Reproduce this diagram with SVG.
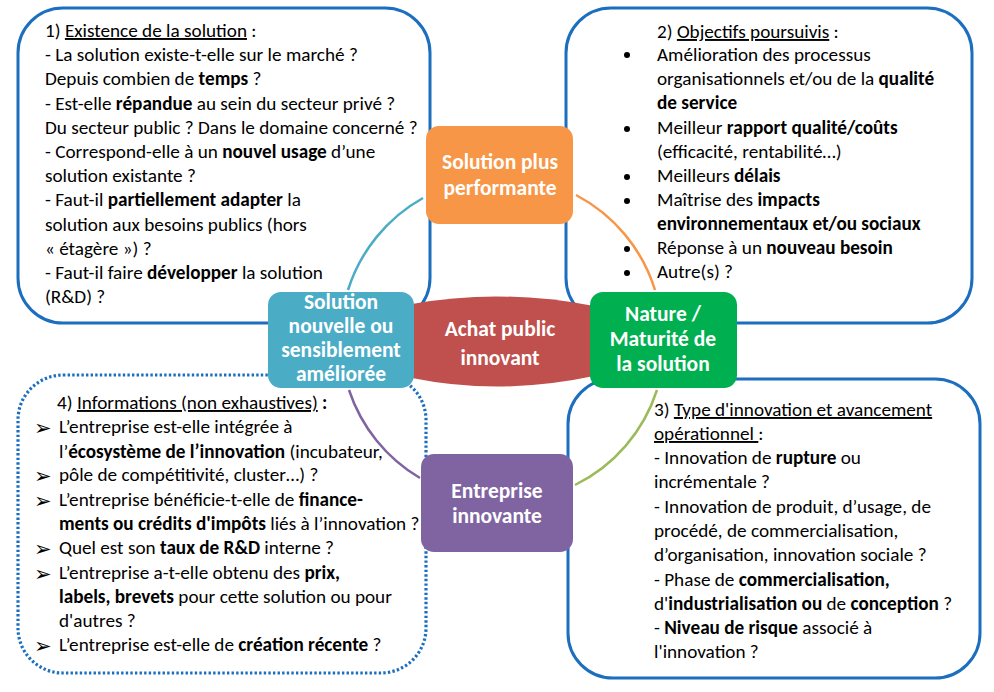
<svg xmlns="http://www.w3.org/2000/svg" width="994" height="692" viewBox="0 0 994 692">
<style>
.box{fill:none;stroke:#1c6ebf;stroke-width:3}
.dot{fill:none;stroke:#1c6ebf;stroke-width:3.2;stroke-dasharray:2.4 2.2}
.t{font-family:Carlito,Lato,"Liberation Sans",sans-serif;font-size:19.2px;fill:#000}
.b{font-weight:bold}
.u{text-decoration:underline}
.n{font-family:Carlito,Lato,"Liberation Sans",sans-serif;font-size:21.5px;font-weight:bold;fill:#fff;text-anchor:middle}
.arc{fill:none;stroke-width:2.5}
.bul{font-family:"DejaVu Sans",sans-serif;font-size:21px;fill:#000}
</style>
<rect width="994" height="692" fill="#fff"/>
<g id="box1">
<rect class="box" x="18" y="8" width="412" height="315" rx="45"/>
<text class="t" x="45" y="37">1) <tspan class="u">Existence de la solution</tspan> :</text>
<text class="t" x="45" y="61">- La solution existe-t-elle sur le marché ?</text>
<text class="t" x="45" y="85">Depuis combien de <tspan class="b">temps</tspan> ?</text>
<text class="t" x="45" y="110">- Est-elle <tspan class="b">répandue</tspan> au sein du secteur privé ?</text>
<text class="t" x="45" y="134">Du secteur public ? Dans le domaine concerné ?</text>
<text class="t" x="45" y="158">- Correspond-elle à un <tspan class="b">nouvel usage</tspan> d’une</text>
<text class="t" x="45" y="182">solution existante ?</text>
<text class="t" x="45" y="206">- Faut-il <tspan class="b">partiellement adapter</tspan> la</text>
<text class="t" x="45" y="231">solution aux besoins publics (hors</text>
<text class="t" x="45" y="255">« étagère ») ?</text>
<text class="t" x="45" y="279">- Faut-il faire <tspan class="b">développer</tspan> la solution</text>
<text class="t" x="45" y="303">(R&amp;D) ?</text>
</g>
<g id="box2">
<rect class="box" x="566" y="8" width="406" height="315" rx="45"/>
<text class="t" x="657" y="38">2) <tspan class="u">Objectifs poursuivis</tspan> :</text>
<g fill="#000"><circle cx="627" cy="55" r="3"/><circle cx="627" cy="129" r="3"/><circle cx="627" cy="177" r="3"/><circle cx="627" cy="201" r="3"/><circle cx="627" cy="249" r="3"/><circle cx="627" cy="273" r="3"/></g>
<text class="t" x="657" y="61">Amélioration des processus</text>
<text class="t" x="657" y="85">organisationnels et/ou de la <tspan class="b">qualité</tspan></text>
<text class="t b" x="657" y="109">de service</text>
<text class="t" x="657" y="134">Meilleur <tspan class="b">rapport qualité/coûts</tspan></text>
<text class="t" x="657" y="158">(efficacité, rentabilité…)</text>
<text class="t" x="657" y="182">Meilleurs <tspan class="b">délais</tspan></text>
<text class="t" x="657" y="206">Maîtrise des <tspan class="b">impacts</tspan></text>
<text class="t b" x="657" y="230">environnementaux et/ou sociaux</text>
<text class="t" x="657" y="254">Réponse à un <tspan class="b">nouveau besoin</tspan></text>
<text class="t" x="657" y="278">Autre(s) ?</text>
</g>
<g id="box3">
<rect class="box" x="568" y="379" width="412" height="299" rx="45"/>
<text class="t" x="654" y="416">3) <tspan class="u">Type d'innovation et avancement</tspan></text>
<text class="t" x="654" y="440"><tspan class="u">opérationnel </tspan>:</text>
<text class="t" x="654" y="464">- Innovation de <tspan class="b">rupture</tspan> ou</text>
<text class="t" x="654" y="488">incrémentale ?</text>
<text class="t" x="654" y="513">- Innovation de produit, d’usage, de</text>
<text class="t" x="654" y="537">procédé, de commercialisation,</text>
<text class="t" x="654" y="561">d’organisation, innovation sociale ?</text>
<text class="t" x="654" y="586">- Phase de <tspan class="b">commercialisation,</tspan></text>
<text class="t" x="654" y="610">d'<tspan class="b">industrialisation ou</tspan> de <tspan class="b">conception</tspan> ?</text>
<text class="t" x="654" y="634">- <tspan class="b">Niveau de risque</tspan> associé à</text>
<text class="t" x="654" y="658">l'innovation ?</text>
</g>
<g id="box4">
<rect class="dot" x="18" y="375" width="408" height="298" rx="45"/>
<text class="t" x="57" y="409">4) <tspan class="u">Informations (non exhaustives)</tspan><tspan class="b"> :</tspan></text>
<text class="bul" x="34" y="435">➢</text>
<text class="bul" x="34" y="483">➢</text>
<text class="bul" x="34" y="508">➢</text>
<text class="bul" x="34" y="556">➢</text>
<text class="bul" x="34" y="581">➢</text>
<text class="bul" x="34" y="653">➢</text>
<text class="t" x="59" y="433">L’entreprise est-elle intégrée à</text>
<text class="t" x="59" y="458">l’<tspan class="b">écosystème de l’innovation</tspan> (incubateur,</text>
<text class="t" x="59" y="481">pôle de compétitivité, cluster…) ?</text>
<text class="t" x="59" y="506">L’entreprise bénéficie-t-elle de <tspan class="b">finance-</tspan></text>
<text class="t" x="59" y="530"><tspan class="b">ments ou crédits d'impôts</tspan> liés à l’innovation ?</text>
<text class="t" x="59" y="554">Quel est son <tspan class="b">taux de R&amp;D</tspan> interne ?</text>
<text class="t" x="59" y="579">L’entreprise a-t-elle obtenu des <tspan class="b">prix,</tspan></text>
<text class="t" x="59" y="603"><tspan class="b">labels, brevets</tspan> pour cette solution ou pour</text>
<text class="t" x="59" y="627">d'autres ?</text>
<text class="t" x="59" y="651">L’entreprise est-elle de <tspan class="b">création récente</tspan> ?</text>
</g>
<g id="connectors">
<path class="arc" stroke="#4bacc6" d="M423 198 A161 161 0 0 0 348 290"/>
<path class="arc" stroke="#f79646" d="M576 195 A161 161 0 0 1 655 290"/>
<path class="arc" stroke="#9bbb59" d="M657 390 A161 161 0 0 1 575 485"/>
<path class="arc" stroke="#8064a2" d="M349 390 A161 161 0 0 0 420 478"/>
</g>
<g id="center">
<path fill="#c0504d" d="M412 304 Q500 288 594 306 L594 376 Q500 396 412 378 Z"/>
<text class="n" x="500" y="336">Achat public</text>
<text class="n" x="500" y="365">innovant</text>
</g>
<g id="n-orange">
<rect x="426" y="126" width="147" height="98" rx="13" fill="#f79646"/>
<text class="n" x="500" y="169">Solution plus</text>
<text class="n" x="500" y="195">performante</text>
</g>
<g id="n-blue">
<rect x="268" y="292" width="146" height="96" rx="13" fill="#4bacc6"/>
<text class="n" x="341" y="309">Solution</text>
<text class="n" x="341" y="333">nouvelle ou</text>
<text class="n" x="341" y="357">sensiblement</text>
<text class="n" x="341" y="381">améliorée</text>
</g>
<g id="n-green">
<rect x="590" y="292" width="147" height="96" rx="13" fill="#00b050"/>
<text class="n" x="663" y="321">Nature /</text>
<text class="n" x="663" y="346">Maturité de</text>
<text class="n" x="663" y="371">la solution</text>
</g>
<g id="n-purple">
<rect x="421" y="454" width="152" height="98" rx="13" fill="#8064a2"/>
<text class="n" x="497" y="498">Entreprise</text>
<text class="n" x="497" y="523">innovante</text>
</g>
</svg>
